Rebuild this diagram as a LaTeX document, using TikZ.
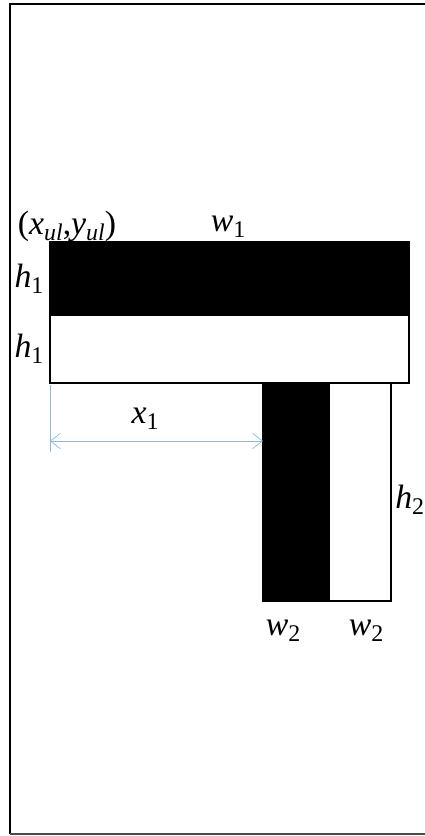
\documentclass[tikz,border=0pt]{standalone}
\usepackage{fontspec}
\setmainfont{Liberation Serif}
\usetikzlibrary{arrows.meta}
\definecolor{dimblue}{RGB}{140,185,225}
\newcommand{\sym}[2]{\textit{#1}\raisebox{-0.4ex}{\fontsize{17}{19}\selectfont #2}}

\begin{document}
\begin{tikzpicture}[
        x=0.025cm, y=-0.025cm,
        lbl/.style={font=\fontsize{24}{28}\selectfont, inner sep=0pt},
        bar/.style={draw, line width=0.9pt},
        dim/.style={draw=dimblue, line width=0.5pt},
        >={Straight Barb[length=7pt, width=11pt]}
        ]
        \useasboundingbox (0,0) rectangle (424,836);
        % frame, open on the right
        \draw[line width=2pt] (430,4) -- (10,4);
        \draw[line width=1.5pt] (10,3) -- (10,834);
        \draw[line width=1pt, black!70] (10,834) -- (430,834);

        % horizontal arm
        \draw[bar, fill=black] (50,242) rectangle (409,315);
        \draw[bar, fill=white] (50,315) rectangle (409,383);
        % vertical arm
        \draw[bar, fill=black] (263,383) rectangle (329,601);
        \draw[bar, fill=white] (329,383) rectangle (391,601);

        % offset x1
        \coordinate (ext0) at (50,385);
        \coordinate (ext1) at (50,452);
        \coordinate (xa) at (50,441);
        \coordinate (xb) at (263,441);
        \draw[dim] (ext0) -- (ext1);
        \draw[dim, <->] (xa) -- (xb);

        \node[lbl] (corner) at (67,226) {(\sym{x}{\textit{ul}},\sym{y}{\textit{ul}})};
        \node[lbl] (w1) at (228,227) {\sym{w}{1}};
        \node[lbl] (h1a) at (29,279) {\sym{h}{1}};
        \node[lbl] (h1b) at (29,349) {\sym{h}{1}};
        \node[lbl] (x1) at (145,419) {\sym{x}{1}};
        \node[lbl, anchor=west] (h2) at (395,500) {\sym{h}{2}};
        \node[lbl] (w2a) at (283,631) {\sym{w}{2}};
        \node[lbl] (w2b) at (366,631) {\sym{w}{2}};
      \end{tikzpicture}
\end{document}
